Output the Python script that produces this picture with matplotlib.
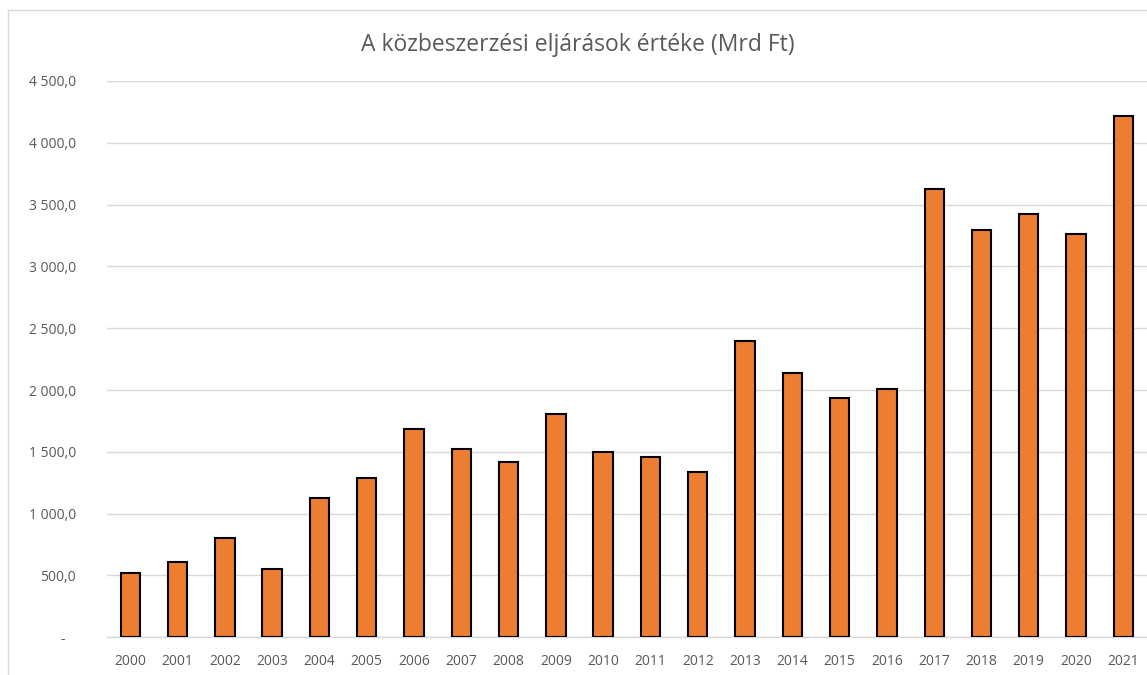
import matplotlib.pyplot as plt
from matplotlib.ticker import FuncFormatter, MultipleLocator

years = [str(y) for y in range(2000, 2022)]
values = [521, 605, 805, 556, 1129, 1291, 1685, 1520, 1418, 1810, 1496,
          1459, 1334, 2399, 2140, 1934, 2005, 3630, 3294, 3428, 3260, 4218]

title = "A közbeszerzési eljárások értéke (Mrd Ft)"
text_color = "#595959"
grid_color = "#d9d9d9"

plt.rcParams['font.family'] = ['Open Sans', 'DejaVu Sans']

fig = plt.figure(figsize=(11.47, 6.75), dpi=100)
ax = fig.add_axes([0.093, 0.0559, 0.907, 0.8241])

x = range(len(years))
ax.bar(x, values, width=0.41, color="#ED7D31", edgecolor="black", linewidth=1.5, zorder=3)

ax.set_xlim(-0.5, len(years) - 0.5)
ax.set_ylim(0, 4500)
ax.yaxis.set_major_locator(MultipleLocator(500))


def hu_fmt(v, pos):
    if v == 0:
        return "-   "
    s = f"{v:,.1f}"
    return s.replace(",", " ").replace(".", ",")


ax.yaxis.set_major_formatter(FuncFormatter(hu_fmt))
ax.set_xticks(list(x))
ax.set_xticklabels(years)

ax.grid(axis='y', color=grid_color, linewidth=1, zorder=0)
for side in ['top', 'right', 'left']:
    ax.spines[side].set_visible(False)
ax.spines['bottom'].set_color(grid_color)
ax.spines['bottom'].set_linewidth(1)
ax.tick_params(axis='both', length=0, colors=text_color, labelsize=10)
ax.tick_params(axis='y', pad=22)
ax.tick_params(axis='x', pad=12)

fig.text(0.5035, 0.933, title, ha='center', va='center', fontsize=16.5, color=text_color)

# chart frame (left and top edges visible in the crop)
fig.add_artist(plt.Line2D([0.007, 0.007], [0.0, 0.985], color=grid_color, lw=1, transform=fig.transFigure))
fig.add_artist(plt.Line2D([0.007, 1.0], [0.985, 0.985], color=grid_color, lw=1, transform=fig.transFigure))

plt.savefig("out.png", dpi=100)
